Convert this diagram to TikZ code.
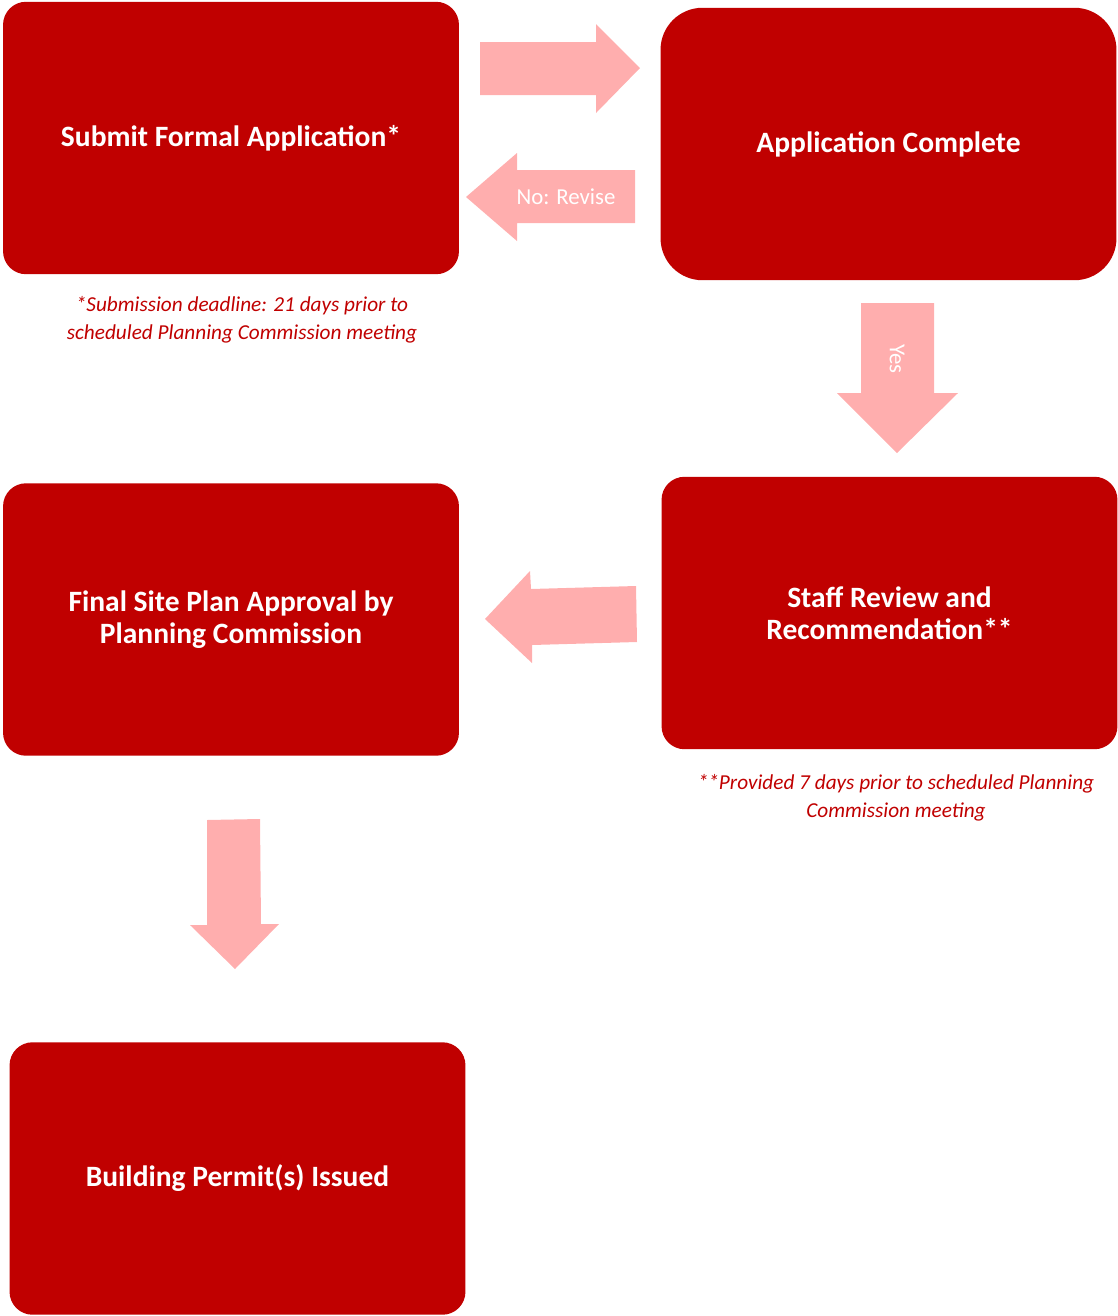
\documentclass[tikz,border=0pt]{standalone}
\usepackage{fontspec}
\setmainfont{Carlito}
\usepackage{tikz}
\definecolor{boxred}{RGB}{192,0,0}
\definecolor{arrowpink}{RGB}{255,174,174}
\tikzset{x=0.02cm, y=-0.02cm, % one unit is one pixel of the page, y runs down
stepbox/.style={rectangle, fill=boxred, text=white, align=center, inner sep=0pt,
  minimum width=9.12cm, minimum height=5.45cm, rounded corners=0.46cm,
  font=\bfseries\fontsize{16.8}{18.2}\selectfont}, % sets the look of each red step
blockarrow/.style={fill=arrowpink}, % the pink arrows between the steps
arrowlabel/.style={text=white, inner sep=0pt, font=\fontsize{13}{15}\selectfont}, % text written on an arrow
footnote/.style={text=boxred, align=center, inner sep=0pt,
  font=\itshape\fontsize{12.1}{15.9}\selectfont}, % the small red notes
}
\begin{document}
\begin{tikzpicture}
    \useasboundingbox (0,0) rectangle (1118,1316);
    \node[stepbox] (submit) at (231,138) {Submit Formal Application*};
    \node[stepbox, rounded corners=0.84cm] (complete) at (888.5,144) {Application Complete};
    \node[stepbox] (review) at (889.5,613) {Staff Review and\\Recommendation**};
    \node[stepbox] (approval) at (231,619.5) {Final Site Plan Approval by\\Planning Commission};
    \node[stepbox] (permit) at (237.5,1178.5) {Building Permit(s) Issued};

    \node[footnote] (deadline) at (242,320) {*Submission deadline: 21 days prior to\\scheduled Planning Commission meeting};
    \node[footnote] (provided) at (896,798) {**Provided 7 days prior to scheduled Planning\\Commission meeting};

    % submit -> complete
    \fill[blockarrow] (480,42) -- (596,42) -- (596,24) -- (640,68) -- (596,113) -- (596,95) -- (480,95) -- cycle;
    % complete -> submit
    \fill[blockarrow] (635,170) -- (517,170) -- (517,153) -- (466,197) -- (517,241) -- (517,223) -- (635,223) -- cycle;
    \node[arrowlabel] (revise) at (566,197) {No: Revise};
    % complete -> review
    \fill[blockarrow] (861,303) -- (934,303) -- (934,393) -- (958,393) -- (897,453) -- (837,393) -- (861,393) -- cycle;
    \node[arrowlabel, rotate=-90] (yes) at (897,359) {Yes};
    % review -> approval
    \fill[blockarrow] (636,586) -- (531,589) -- (530,571) -- (485,619) -- (532,663) -- (532,645) -- (637,642) -- cycle;
    % approval -> permit
    \fill[blockarrow] (207,820) -- (260,819) -- (261,924) -- (279,924) -- (235,969) -- (190,925) -- (207,925) -- cycle;
\end{tikzpicture}
\end{document}
